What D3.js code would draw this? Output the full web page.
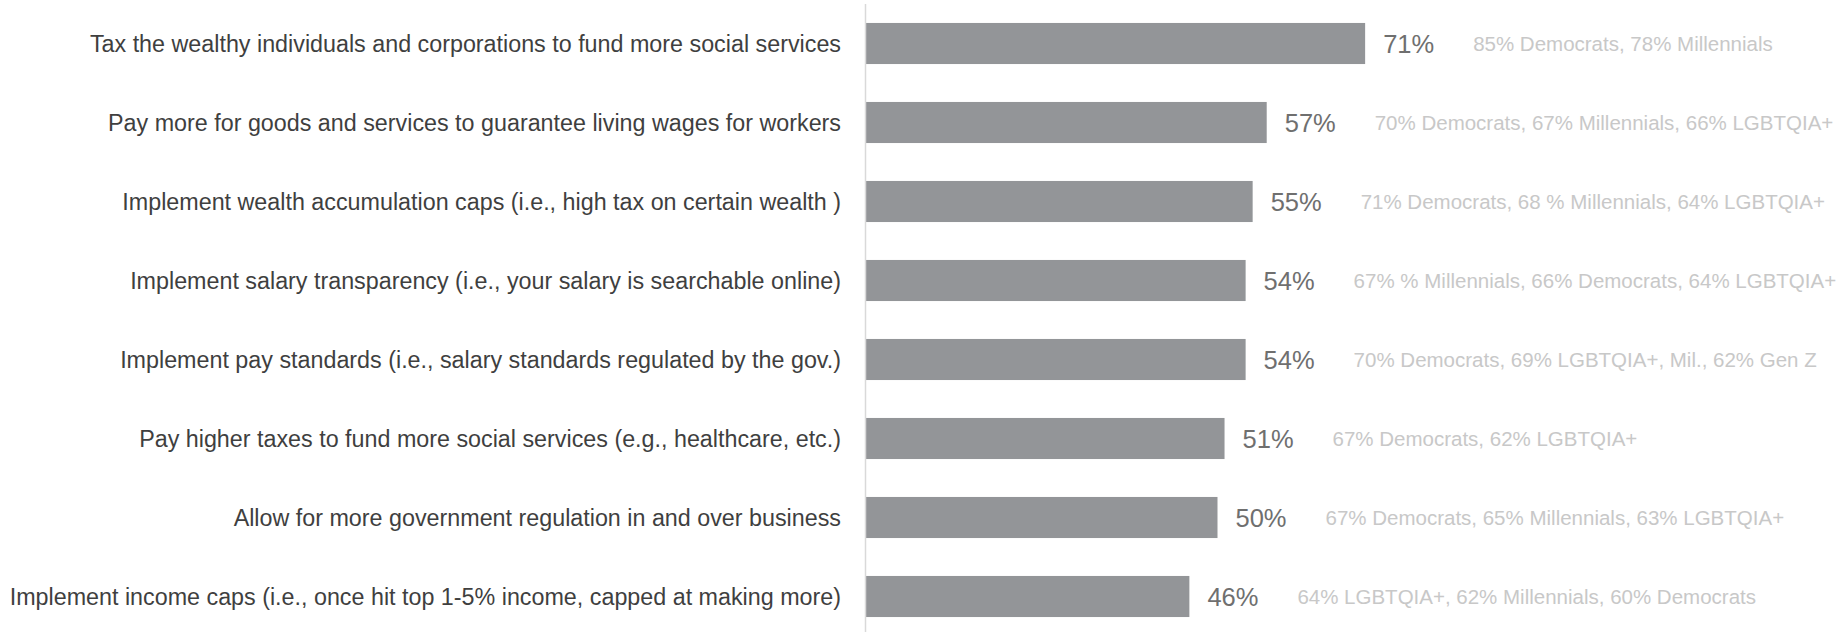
<!DOCTYPE html>
<html>
<head>
<meta charset="utf-8">
<script src="https://cdn.jsdelivr.net/npm/d3@7"></script>
<style>
    body { margin: 0; background: #ffffff; }
    text { font-family: "Liberation Sans", Arial, sans-serif; }
</style>
</head>
<body>
<div id="graph1"></div>
<script>
// categories (top to bottom)
const categories = [
    "Tax the wealthy individuals and corporations to fund more social services",
    "Pay more for goods and services to guarantee living wages for workers",
    "Implement wealth accumulation caps (i.e., high tax on certain wealth )",
    "Implement salary transparency (i.e., your salary is searchable online)",
    "Implement pay standards (i.e., salary standards regulated by the gov.)",
    "Pay higher taxes to fund more social services (e.g., healthcare, etc.)",
    "Allow for more government regulation in and over business",
    "Implement income caps (i.e., once hit top 1-5% income, capped at making more)"
];

// percent agree
const values = [71, 57, 55, 54, 54, 51, 50, 46];

// side notes per row
const notes = [
    "85% Democrats, 78% Millennials",
    "70% Democrats, 67% Millennials, 66% LGBTQIA+",
    "71% Democrats, 68 % Millennials, 64% LGBTQIA+",
    "67% % Millennials, 66% Democrats, 64% LGBTQIA+",
    "70% Democrats, 69% LGBTQIA+, Mil., 62% Gen Z",
    "67% Democrats, 62% LGBTQIA+",
    "67% Democrats, 65% Millennials, 63% LGBTQIA+",
    "64% LGBTQIA+, 62% Millennials, 60% Democrats"
];

(function () {
    let width = 1848,
        height = 632;
    let margin = { left: 866, top: 0 };

    let data = categories.map((c, i) => ({ name: c, value: values[i], note: notes[i] }));

    let svg = d3.select("#graph1")
        .append("svg")
        .attr("width", width)
        .attr("height", height)
        .append("g")
        .attr("transform", `translate(${margin.left}, ${margin.top})`);

    // x linear scale (percent)
    let x = d3.scaleLinear()
        .domain([0, 100])
        .range([0, 703]);

    // y band scale
    let y = d3.scaleBand()
        .domain(categories)
        .range([4, 636])
        .paddingInner(0.48)
        .paddingOuter(0.24);

    // category labels on the left
    svg.append("g")
        .selectAll("text")
        .data(data)
        .enter()
        .append("text")
        .attr("x", -25)
        .attr("y", d => y(d.name) + y.bandwidth() / 2)
        .attr("dy", "0.35em")
        .style("text-anchor", "end")
        .style("font-size", "23.3px")
        .style("fill", "#3f3f3f")
        .text(d => d.name);

    // bars
    svg.selectAll("rect")
        .data(data)
        .enter()
        .append("rect")
        .attr("fill", "#939598")
        .attr("x", x(0))
        .attr("y", d => y(d.name))
        .attr("width", d => x(d.value))
        .attr("height", y.bandwidth());

    // vertical axis line
    svg.append("line")
        .attr("x1", -0.5)
        .attr("x2", -0.5)
        .attr("y1", 4)
        .attr("y2", height)
        .style("stroke", "#d9d9d9")
        .style("stroke-width", 1.5);

    // value labels
    svg.append("g")
        .selectAll("text")
        .data(data)
        .enter()
        .append("text")
        .attr("x", d => x(d.value) + 18)
        .attr("y", d => y(d.name) + y.bandwidth() / 2)
        .attr("dy", "0.36em")
        .style("text-anchor", "start")
        .style("font-size", "25.5px")
        .style("fill", "#6f6f6f")
        .text(d => d.value + "%");

    // notes
    svg.append("g")
        .selectAll("text")
        .data(data)
        .enter()
        .append("text")
        .attr("x", d => x(d.value) + 108)
        .attr("y", d => y(d.name) + y.bandwidth() / 2)
        .attr("dy", "0.35em")
        .style("text-anchor", "start")
        .style("font-size", "20.5px")
        .style("fill", "#c8c8c8")
        .text(d => d.note);
})();
</script>
</body>
</html>
